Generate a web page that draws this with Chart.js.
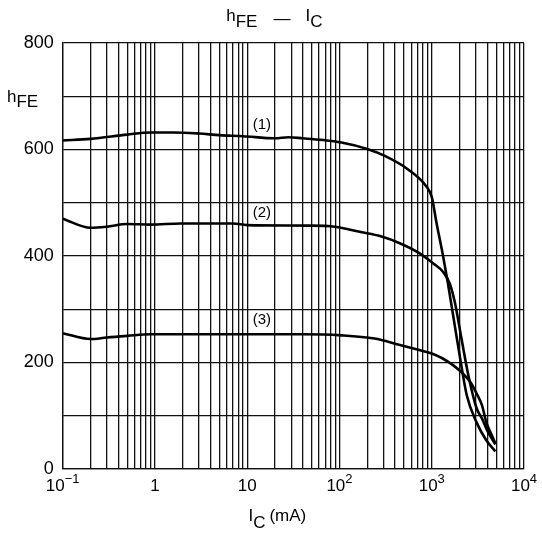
<!DOCTYPE html>
<html>
<head>
<meta charset="utf-8">
<script src="https://cdn.jsdelivr.net/npm/chart.js@4.4.0/dist/chart.umd.min.js"></script>
<style>
  body { margin: 0; background: #fff; }
</style>
</head>
<body>
<canvas id="myChart" width="542" height="539"></canvas>
<script>
// data (Ic in mA, hFE)
const curve1I = [0.1, 0.2, 0.5, 0.9, 1.6, 3, 5, 9, 20, 28, 40, 64, 105, 200, 310, 550, 880, 1000, 1130, 1330, 1500, 1700, 2000, 2400, 3050, 3900, 4900];
const curve1H = [617, 620, 628, 632, 632, 630, 627, 625, 621, 623, 621, 618, 613, 601, 588, 563, 530, 511, 461, 399, 348, 290, 215, 138, 88, 54, 33];

const curve2I = [0.1, 0.2, 0.3, 0.5, 0.9, 1.9, 7, 10, 46, 89, 170, 280, 450, 740, 1040, 1330, 1570, 1780, 2100, 2500, 3050, 3500, 4000, 4900];
const curve2H = [470, 453, 455, 460, 459, 461, 461, 458, 457, 455, 445, 437, 424, 405, 386, 370, 348, 313, 245, 175, 115, 95, 72, 46];

const curve3I = [0.1, 0.2, 0.3, 0.5, 0.9, 3, 40, 105, 240, 430, 750, 1000, 1300, 1700, 2150, 2650, 3100, 3500, 3900, 4400, 4900];
const curve3H = [255, 244, 247, 250, 253, 253, 253, 251, 245, 234, 223, 217, 208, 195, 180, 162, 140, 120, 88, 66, 48];

// tick labels
const xTickValues = [0.1, 1, 10, 100, 1000, 10000];
const xTickBase = ['10', '1', '10', '10', '10', '10'];
const xTickExp = ['\u22121', '', '', '2', '3', '4'];

// curve names and where they sit
const curveNames = ['(1)', '(2)', '(3)'];
const nameAtI = [14.4, 14.4, 14.4];
const nameAtH = [646, 481, 280];

const FONT = '"Liberation Sans", Arial, sans-serif';

// log grid: 1..9 in every decade
const gridTicks = [];
for (let d = -1; d < 4; d++) {
  for (let m = 1; m < 10; m++) gridTicks.push(m * Math.pow(10, d));
}
gridTicks.push(10000);

function toPoints(xs, ys) {
  return xs.map((v, i) => ({ x: v, y: ys[i] }));
}

// draw a row of text pieces (for subscripts / superscripts)
function drawParts(ctx, parts, x, y, align) {
  let total = 0;
  parts.forEach(p => {
    ctx.font = p.s + 'px ' + FONT;
    total += ctx.measureText(p.t).width + (p.gap || 0);
  });
  let cx = align === 'center' ? x - total / 2 : x;
  parts.forEach(p => {
    ctx.font = p.s + 'px ' + FONT;
    ctx.fillText(p.t, cx, y + (p.dy || 0));
    cx += ctx.measureText(p.t).width + (p.gap || 0);
  });
}

const textPlugin = {
  id: 'textPlugin',
  afterDraw(chart) {
    const { ctx, chartArea, scales: { x, y } } = chart;
    ctx.save();
    ctx.fillStyle = '#000';
    ctx.textAlign = 'left';
    ctx.textBaseline = 'alphabetic';
    const mid = (chartArea.left + chartArea.right) / 2;

    // title
    drawParts(ctx, [
      { t: 'h', s: 17 },
      { t: 'FE', s: 17, dy: 6, gap: 16 },
      { t: '\u2014', s: 17, dy: 3, gap: 15 },
      { t: 'I', s: 17 },
      { t: 'C', s: 17, dy: 6 }
    ], mid - 19, 21, 'center');

    // y axis title
    drawParts(ctx, [
      { t: 'h', s: 17 },
      { t: 'FE', s: 17, dy: 5 }
    ], 7, 102, 'left');

    // x axis title
    drawParts(ctx, [
      { t: 'I', s: 17 },
      { t: 'C', s: 17, dy: 7, gap: 4 },
      { t: '(mA)', s: 17 }
    ], mid - 16, 521, 'center');

    // x tick labels with exponents
    xTickValues.forEach((v, i) => {
      const px = x.getPixelForValue(v);
      const parts = [{ t: xTickBase[i], s: 17 }];
      if (xTickExp[i]) parts.push({ t: xTickExp[i], s: 13, dy: -8 });
      drawParts(ctx, parts, px, 491, 'center');
    });

    // curve names
    ctx.font = '15px ' + FONT;
    ctx.textAlign = 'center';
    ctx.textBaseline = 'middle';
    curveNames.forEach((n, i) => {
      ctx.fillText(n, x.getPixelForValue(nameAtI[i]), y.getPixelForValue(nameAtH[i]));
    });
    ctx.restore();
  }
};

const data = {
  datasets: [
    { label: '(1)', data: toPoints(curve1I, curve1H) },
    { label: '(2)', data: toPoints(curve2I, curve2H) },
    { label: '(3)', data: toPoints(curve3I, curve3H) }
  ]
};

const config = {
  type: 'line',
  data,
  options: {
    responsive: false,
    animation: false,
    devicePixelRatio: 1,
    layout: { padding: { top: 43, right: 18, left: 0, bottom: 0 } },
    plugins: { legend: { display: false }, tooltip: { enabled: false } },
    elements: {
      point: { radius: 0 },
      line: { borderWidth: 2.6, borderColor: '#000', cubicInterpolationMode: 'monotone' }
    },
    scales: {
      x: {
        type: 'logarithmic',
        min: 0.1,
        max: 10000,
        afterBuildTicks: s => { s.ticks = gridTicks.map(v => ({ value: v })); },
        afterFit: s => { s.height = 70; },
        ticks: { display: false },
        grid: { color: '#111', lineWidth: 1.3, drawTicks: false },
        border: { color: '#111', width: 1.3 }
      },
      y: {
        min: 0,
        max: 800,
        afterFit: s => { s.width = 62.7; },
        ticks: {
          stepSize: 100,
          callback: v => (v % 200 === 0 ? v : ''),
          font: { size: 18, family: FONT },
          color: '#000',
          padding: 9
        },
        grid: { color: '#111', lineWidth: 1.3, drawTicks: false },
        border: { color: '#111', width: 1.3 }
      }
    }
  },
  plugins: [textPlugin]
};

const myChart = new Chart(document.getElementById('myChart'), config);
</script>
</body>
</html>
